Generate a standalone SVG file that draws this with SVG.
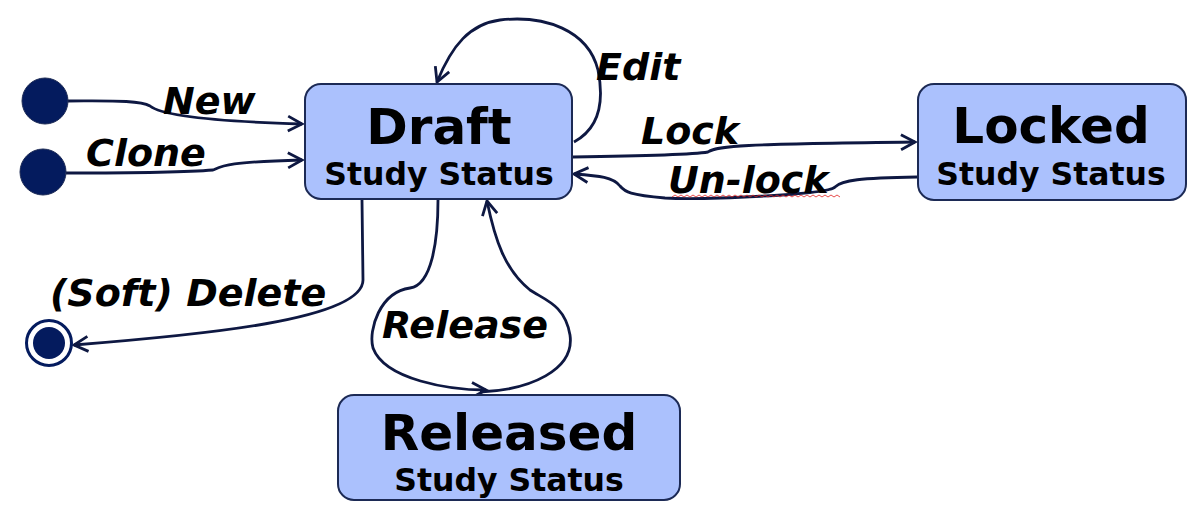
<svg xmlns="http://www.w3.org/2000/svg" width="1202" height="525" viewBox="0 0 1202 525">
<defs>
<style>
.box{fill:#abc1fd;stroke:#1c2a55;stroke-width:2}
.title{font-family:"DejaVu Sans",sans-serif;font-weight:bold;font-size:50px;fill:#000;text-anchor:middle}
.sub{font-family:"DejaVu Sans",sans-serif;font-weight:bold;font-size:31.5px;fill:#000;text-anchor:middle}
.lbl{font-family:"DejaVu Sans",sans-serif;font-weight:bold;font-style:italic;font-size:38px;fill:#000}
.edge{fill:none;stroke:#0e1842;stroke-width:2.8;marker-end:url(#arr)}
.dot{fill:#041b5e;stroke:#1c2a55;stroke-width:1}
</style>
<marker id="arr" viewBox="0 0 20 20" refX="17" refY="10" markerWidth="20" markerHeight="20" markerUnits="userSpaceOnUse" orient="auto">
<path d="M3,2.5 L17,10 L3,17.5" fill="none" stroke="#0e1842" stroke-width="2.8"/>
</marker>
</defs>
<rect width="1202" height="525" fill="#fff"/>
<g id="connectors">
<path class="edge" d="M68,101 C110,101 140,100 150,106 C160,114 200,121 302,124"/>
<path class="edge" d="M66,173 C120,173 190,172 213,170 C222,166 225,162 302,160"/>
<path class="edge" d="M574,142 C600,128 604,100 598,70 C588,30 545,15 500,20 C470,24 452,45 437,82"/>
<path class="edge" d="M573,157 C640,156 690,155 708,152 C716,146 740,144 915,142"/>
<path class="edge" d="M917,177 C860,178 842,180 835,187 C828,195 700,200 665,198 C630,195 625,192 620,186 C613,177 600,176 574,174"/>
<path class="edge" d="M362,200 L363,280 C363,320 200,335 74,345"/>
<path class="edge" d="M438,200 C438,240 432,285 410,288 C380,292 368,330 373,348 C385,380 450,390 486,390"/>
<path class="edge" d="M480,392 C530,390 575,370 570,335 C565,305 545,300 530,290 C505,270 495,240 487,201"/>
<path d="M672,197 l3,-2 l3,2 l3,-2 l3,2 l3,-2 l3,2 l3,-2 l3,2 l3,-2 l3,2 l3,-2 l3,2 l3,-2 l3,2 l3,-2 l3,2 l3,-2 l3,2 l3,-2 l3,2 l3,-2 l3,2 l3,-2 l3,2 l3,-2 l3,2 l3,-2 l3,2 l3,-2 l3,2 l3,-2 l3,2 l3,-2 l3,2 l3,-2 l3,2 l3,-2 l3,2 l3,-2 l3,2 l3,-2 l3,2 l3,-2 l3,2 l3,-2 l3,2 l3,-2 l3,2 l3,-2 l3,2 l3,-2 l3,2 l3,-2 l3,2 l3,-2 l3,2" fill="none" stroke="#e02020" stroke-width="0.8"/>
</g>
<g id="start-new"><circle class="dot" cx="45" cy="101" r="23"/></g>
<g id="start-clone"><circle class="dot" cx="43" cy="172" r="23"/></g>
<g id="final"><circle cx="49" cy="343" r="22.5" fill="#fff" stroke="#041b5e" stroke-width="3"/><circle cx="49" cy="343" r="16" fill="#041b5e"/></g>
<g id="draft"><rect class="box" x="305" y="84" width="267" height="115" rx="16"/><text class="title" x="439" y="144">Draft</text><text class="sub" x="439" y="185">Study Status</text></g>
<g id="locked"><rect class="box" x="918" y="84" width="268" height="116" rx="16"/><text class="title" x="1051" y="143">Locked</text><text class="sub" x="1051" y="185">Study Status</text></g>
<g id="released"><rect class="box" x="338" y="395" width="342" height="105" rx="16"/><text class="title" x="509" y="450">Released</text><text class="sub" x="509" y="491">Study Status</text></g>
<g id="labels">
<text class="lbl" x="163" y="114">New</text>
<text class="lbl" x="86" y="166">Clone</text>
<text class="lbl" x="596" y="80">Edit</text>
<text class="lbl" x="641" y="144">Lock</text>
<text class="lbl" x="668" y="193">Un-lock</text>
<text class="lbl" x="50" y="306">(Soft) Delete</text>
<text class="lbl" x="382" y="338">Release</text>
</g>
</svg>
